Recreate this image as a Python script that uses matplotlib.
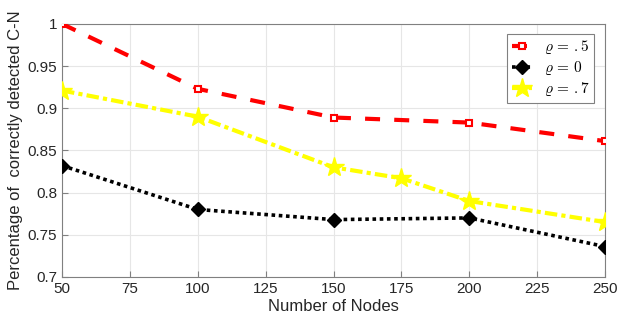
import matplotlib
matplotlib.use("Agg")
import matplotlib.pyplot as plt

plt.rcParams['font.family'] = ['Liberation Sans', 'DejaVu Sans']
plt.rcParams['mathtext.fontset'] = 'cm'

nodes_red = [50, 100, 150, 200, 250]
rho05 = [1.0, 0.923, 0.889, 0.883, 0.861]
nodes_black = [50, 100, 150, 200, 250]
rho0 = [0.832, 0.780, 0.768, 0.770, 0.736]
nodes_yellow = [50, 100, 150, 175, 200, 250]
rho07 = [0.921, 0.890, 0.830, 0.817, 0.790, 0.765]

xticks = [50, 75, 100, 125, 150, 175, 200, 225, 250]
yticks = [0.7, 0.75, 0.8, 0.85, 0.9, 0.95, 1.0]
yticklabels = ['0.7', '0.75', '0.8', '0.85', '0.9', '0.95', '1']

fig = plt.figure(figsize=(6.2, 3.27), dpi=100)
ax = fig.add_axes([0.1, 0.153, 0.876, 0.774])

ax.plot(nodes_red, rho05, color='#ff0000', linestyle=(0, (3.6, 3.4)), linewidth=3,
        marker='s', markersize=5, markerfacecolor='white', markeredgecolor='#ff0000',
        markeredgewidth=1.5, label=r'$\varrho\,=\,.5$', zorder=3)
ax.plot(nodes_black, rho0, color='black', linestyle=(0, (1, 1)), linewidth=2.6,
        marker='D', markersize=7, markerfacecolor='black', label=r'$\varrho\,=\,0$', zorder=3)
ax.plot(nodes_yellow, rho07, color='#ffff00', linestyle=(0, (3, 1, 1, 1)), linewidth=3,
        marker='*', markersize=15, markerfacecolor='#ffff00', markeredgecolor='#ffff00',
        label=r'$\varrho\,=\,.7$', zorder=3)

ax.set_xlim(50, 250)
ax.set_ylim(0.7, 1.0)
ax.set_xticks(xticks)
ax.set_yticks(yticks)
ax.set_yticklabels(yticklabels)
ax.grid(True, color='#e6e6e6', linewidth=0.8)
ax.set_axisbelow(True)
for s in ax.spines.values():
    s.set_color('#808080')
    s.set_linewidth(0.8)
ax.tick_params(direction='in', colors='#808080', labelcolor='#262626', labelsize=11, length=4)
ax.set_xlabel('Number of Nodes', fontsize=12, color='#262626', labelpad=2)
ax.set_ylabel('Percentage of  correctly detected C-N', fontsize=12, color='#262626', labelpad=3)

leg = ax.legend(loc='upper right', bbox_to_anchor=(0.98, 0.961), fontsize=11,
                frameon=True, fancybox=False, edgecolor='#808080', framealpha=1,
                handlelength=1.3, handletextpad=0.8, borderpad=0.3, labelspacing=0.2,
                borderaxespad=0)
leg.get_frame().set_linewidth(0.8)

fig.savefig('out.png', dpi=100)
